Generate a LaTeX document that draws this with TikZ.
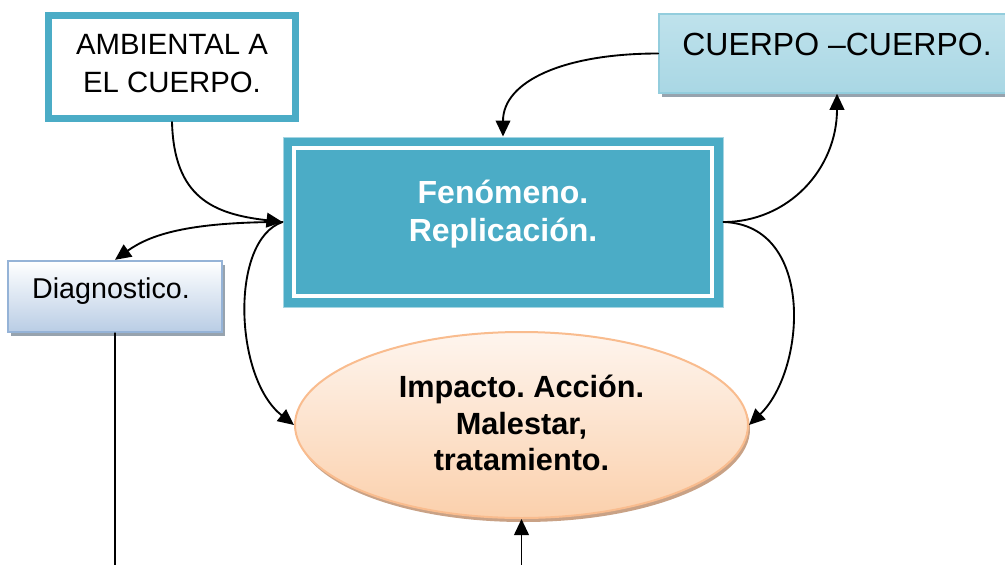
\documentclass[tikz,border=0pt]{standalone}
\usepackage{fontspec}
\setmainfont{Liberation Sans}
\usetikzlibrary{arrows.meta,shapes.geometric,shadows}
\definecolor{tealbox}{HTML}{4BACC6}
\definecolor{tealedge}{HTML}{A5D5E2}
\definecolor{cuerpoedge}{HTML}{93CDDD}
\definecolor{cuerpotop}{HTML}{BFE2EC}
\definecolor{cuerpomid}{HTML}{DCEFF4}
\definecolor{cuerpobot}{HTML}{A9D7E4}
\definecolor{diagedge}{HTML}{95B3D7}
\definecolor{diagbot}{HTML}{B9CDE5}
\definecolor{elledge}{HTML}{F9BC8E}
\definecolor{elltop}{HTML}{FEF5EE}
\definecolor{ellbot}{HTML}{FBD0AC}
\definecolor{graydrop}{HTML}{97A3AE}
\definecolor{browndrop}{HTML}{C9A286}
\frenchspacing
\begin{document}
\begin{tikzpicture}[x=0.75pt,y=-0.75pt,line cap=round,line join=round,
  link/.style={line width=1.4pt,-{Triangle[length=12pt,width=11pt]}},
  boxtext/.style={align=center,inner sep=0pt},
  graybox/.style={inner sep=0pt,line join=miter,drop shadow={shadow xshift=2.5pt,shadow yshift=-3pt,fill=graydrop,opacity=1}}]
  % Fenomeno box in the middle, the sources above it and the ellipse of effects below.
  \useasboundingbox (0,0) rectangle (1005,564);
  \node[draw=tealbox,fill=white,line width=5.25pt,line join=miter,minimum width=185.25pt,minimum height=77.25pt,inner sep=0pt] (amb) at (172,67) {};
  \node[graybox,draw=cuerpoedge,line width=1.2pt,top color=cuerpotop,middle color=cuerpomid,bottom color=cuerpobot,minimum width=267pt,minimum height=59.25pt] (cuerpo) at (837,53.5) {};
  \node[draw=tealedge,fill=tealbox,line width=0.75pt,line join=miter,minimum width=330pt,minimum height=127.5pt,inner sep=0pt] (fen) at (503,222) {};
  \draw[white,line width=3pt,line join=miter] ([xshift=8.5pt,yshift=-8.5pt]fen.north west) rectangle ([xshift=-8.5pt,yshift=8.5pt]fen.south east);
  \node[graybox,draw=diagedge,line width=1.8pt,top color=white,bottom color=diagbot,minimum width=160.5pt,minimum height=53.25pt] (diag) at (115,296.5) {};
  \node[ellipse,draw=elledge,line width=1.5pt,top color=elltop,bottom color=ellbot,minimum width=339.75pt,minimum height=139.5pt,inner sep=0pt,
    drop shadow={shadow xshift=1.5pt,shadow yshift=-3pt,fill=browndrop,opacity=1}] (ell) at (521.5,425) {};

  \node[boxtext,font=\fontsize{22}{28.5}\selectfont] (ambtext) at (172,64) {AMBIENTAL A\\EL CUERPO.};
  \node[boxtext,font=\fontsize{24}{29}\selectfont] (cuerpotext) at (837,44) {CUERPO –CUERPO.};
  \node[boxtext,font=\bfseries\fontsize{24}{29}\selectfont,text=white] (fentext) at (503,214) {Fenómeno.\\Replicación.};
  \node[boxtext,font=\fontsize{21.5}{26}\selectfont] (diagtext) at (111,291) {Diagnostico.};
  \node[boxtext,font=\bfseries\fontsize{23}{27.5}\selectfont] (elltext) at (521.5,423) {Impacto. Acción.\\Malestar,\\tratamiento.};

  \draw[link] (amb.south) .. controls +(2,75) and +(-70,-8) .. (fen.west);
  \draw[link] (cuerpo.west) .. controls +(-95,0) and +(0,-55) .. (fen.north);
  \draw[link] (fen.east) .. controls +(65,0) and +(0,75) .. (cuerpo.south);
  \draw[link] (fen.west) .. controls +(-95,0) and +(35,-25) .. (diag.north);
  \draw[link] (fen.west) .. controls +(-53,18) and +(-60,-47) .. (ell.west);
  \draw[link] (fen.east) .. controls +(92,3) and +(57,-55) .. (ell.east);
  \coordinate (diagend) at (115,566);
  \coordinate (ellfeed) at (521.5,566);
  \draw[line width=1.4pt] (diag.south) -- (diagend);
  \draw[link] (ellfeed) -- (ell.south);
\end{tikzpicture}
\end{document}
